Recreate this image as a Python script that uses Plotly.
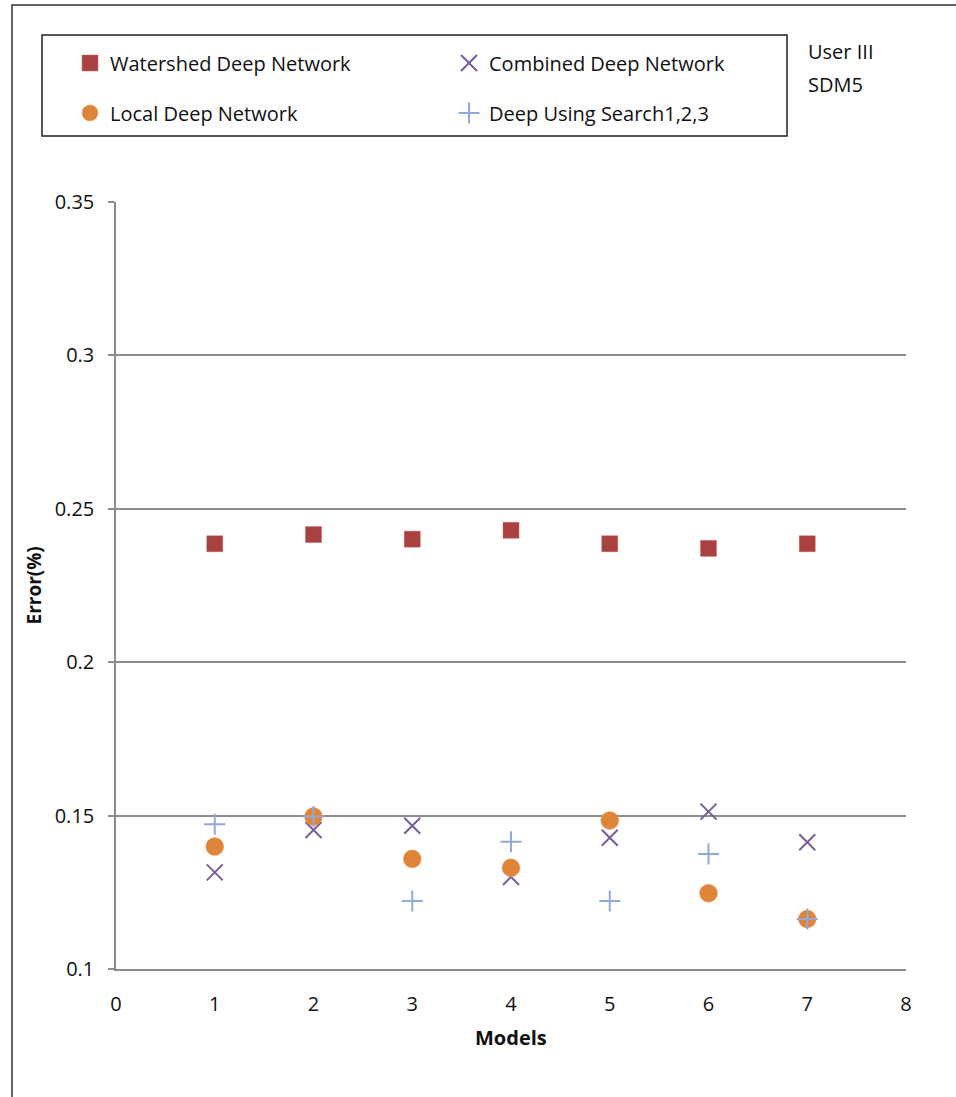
import plotly.graph_objects as go

models = [1, 2, 3, 4, 5, 6, 7]
watershed = [0.2386, 0.2416, 0.2401, 0.2430, 0.2386, 0.2371, 0.2386]
combined = [0.1315, 0.1453, 0.1467, 0.1300, 0.1428, 0.1513, 0.1413]
local = [0.1399, 0.1497, 0.1359, 0.1330, 0.1484, 0.1247, 0.1163]
search = [0.1472, 0.1497, 0.1222, 0.1415, 0.1222, 0.1375, 0.1163]
x_ticks = [0, 1, 2, 3, 4, 5, 6, 7, 8]
y_ticks = [0.1, 0.15, 0.2, 0.25, 0.3, 0.35]

W, H = 956, 1097
L, R, T, B = 116, 50, 202, 128
PW, PH = W - L - R, H - T - B

def px(xp):
    return (xp - L) / PW

def py(yp):
    return (H - B - yp) / PH

FONT = "Open Sans"

fig = go.Figure()
fig.add_trace(go.Scatter(x=models, y=watershed, mode="markers", name="Watershed Deep Network",
                         legend="legend",
                         marker=dict(symbol="square", size=16, color="#a8413f",
                                     line=dict(width=0.5, color="#c56a68"))))
fig.add_trace(go.Scatter(x=models, y=combined, mode="markers", name="Combined Deep Network",
                         legend="legend",
                         marker=dict(symbol="x-thin", size=16, color="#7a5b9c",
                                     line=dict(width=2, color="#7a5b9c"))))
fig.add_trace(go.Scatter(x=models, y=local, mode="markers", name="Local Deep Network",
                         legend="legend2",
                         marker=dict(symbol="circle", size=18, color="#df853a",
                                     line=dict(width=0.5, color="#eba56c"))))
fig.add_trace(go.Scatter(x=models, y=search, mode="markers", name="Deep Using Search1,2,3",
                         legend="legend2",
                         marker=dict(symbol="cross-thin", size=15, color="#91a9d8",
                                     line=dict(width=2, color="#91a9d8"))))

legend_common = dict(orientation="h", xanchor="left", yanchor="middle",
                     entrywidth=334, entrywidthmode="pixels",
                     font=dict(family=FONT, size=20, color="#111"),
                     bgcolor="rgba(0,0,0,0)", borderwidth=0,
                     itemclick=False, itemdoubleclick=False)

fig.update_layout(
    width=W, height=H,
    margin=dict(l=L, r=R, t=T, b=B, autoexpand=False),
    paper_bgcolor="white", plot_bgcolor="white",
    showlegend=True,
    legend=dict(x=px(70), y=py(63), **legend_common),
    legend2=dict(x=px(70), y=py(113), **legend_common),
    xaxis=dict(range=[0, 8], tickvals=x_ticks, showgrid=False, zeroline=False,
               showline=True, linecolor="#8c8c8c", linewidth=1.5,
               ticks="", ticklabelstandoff=16,
               tickfont=dict(family=FONT, size=20, color="#111")),
    yaxis=dict(range=[0.1, 0.35], tickvals=y_ticks, showgrid=True,
               gridcolor="#8c8c8c", gridwidth=1.5, zeroline=False,
               showline=True, linecolor="#8c8c8c", linewidth=1.5,
               ticks="outside", ticklen=6, tickcolor="#8c8c8c", tickwidth=1.5,
               ticklabelstandoff=10,
               tickfont=dict(family=FONT, size=20, color="#111")),
    shapes=[
        dict(type="rect", xref="paper", yref="paper",
             x0=px(12), x1=px(990), y0=py(1130), y1=py(5),
             line=dict(color="#333", width=1.5), fillcolor="rgba(0,0,0,0)", layer="below"),
        dict(type="rect", xref="paper", yref="paper",
             x0=px(42), x1=px(787), y0=py(136), y1=py(35),
             line=dict(color="#222", width=1.5), fillcolor="rgba(0,0,0,0)", layer="below"),
    ],
    annotations=[
        dict(text="Models", xref="paper", yref="paper", x=0.5, y=py(1037),
             xanchor="center", yanchor="middle", showarrow=False,
             font=dict(family=FONT, size=20, color="#111", weight="bold")),
        dict(text="Error(%)", xref="paper", yref="paper", x=px(33), y=0.5,
             xanchor="center", yanchor="middle", showarrow=False, textangle=-90,
             font=dict(family=FONT, size=19, color="#111", weight="bold")),
        dict(text="User III", xref="paper", yref="paper", x=px(806), y=py(52),
             xanchor="left", yanchor="middle", showarrow=False, align="left",
             font=dict(family=FONT, size=20, color="#111")),
        dict(text="SDM5", xref="paper", yref="paper", x=px(806), y=py(85),
             xanchor="left", yanchor="middle", showarrow=False, align="left",
             font=dict(family=FONT, size=20, color="#111")),
    ],
)

fig.write_html("out.html", config={"displayModeBar": False},
               post_script="document.body.style.margin='0px';document.body.style.overflow='hidden';")
